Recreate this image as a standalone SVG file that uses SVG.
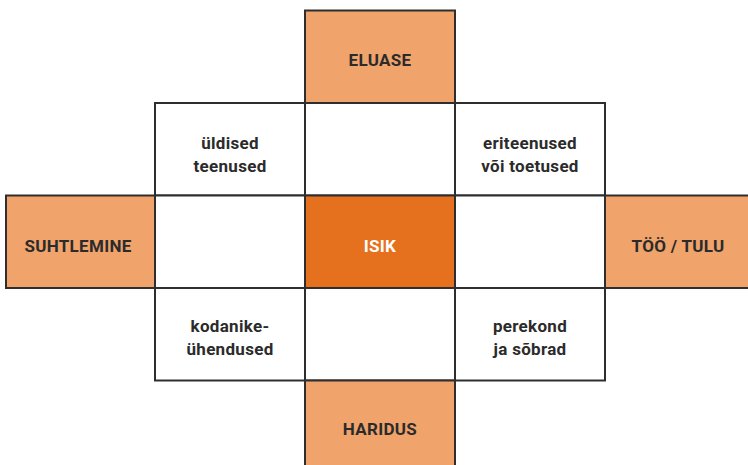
<svg xmlns="http://www.w3.org/2000/svg" width="748" height="465" viewBox="0 0 748 465">
<style>
.c{stroke:#2e2e2e;stroke-width:2}
.w{fill:#ffffff}
.o{fill:#f0a36b}
.k{fill:#e5711e}
text{font-family:Roboto,"Liberation Sans",sans-serif;font-weight:bold;font-size:17px;letter-spacing:0.3px;fill:#2b2b2b;text-anchor:middle}
.t{fill:#ffffff}
</style>
<rect width="748" height="465" fill="#ffffff"/>
<g id="cell-tl"><rect class="c w" x="155" y="103" width="150" height="92.5"/><text x="230" y="149">üldised</text><text x="230" y="171.5">teenused</text></g>
<g id="cell-tc"><rect class="c w" x="305" y="103" width="150" height="92.5"/></g>
<g id="cell-tr"><rect class="c w" x="455" y="103" width="150" height="92.5"/><text x="530" y="149">eriteenused</text><text x="530" y="171.5">või toetused</text></g>
<g id="cell-ml"><rect class="c w" x="155" y="195.5" width="150" height="92.5"/></g>
<g id="cell-mr"><rect class="c w" x="455" y="195.5" width="150" height="92.5"/></g>
<g id="cell-bl"><rect class="c w" x="155" y="288" width="150" height="92.5"/><text x="230" y="332">kodanike-</text><text x="230" y="354.5">ühendused</text></g>
<g id="cell-bc"><rect class="c w" x="305" y="288" width="150" height="92.5"/></g>
<g id="cell-br"><rect class="c w" x="455" y="288" width="150" height="92.5"/><text x="530" y="332">perekond</text><text x="530" y="354.5">ja sõbrad</text></g>
<g id="eluase"><rect class="c o" x="305" y="10.5" width="150" height="92.5"/><text x="380" y="66">ELUASE</text></g>
<g id="suhtlemine"><rect class="c o" x="6" y="195.5" width="149" height="92.5"/><text x="78" y="252">SUHTLEMINE</text></g>
<g id="too-tulu"><rect class="c o" x="605" y="195.5" width="150" height="92.5"/><text x="678" y="252">TÖÖ / TULU</text></g>
<g id="haridus"><rect class="c o" x="305" y="380.5" width="150" height="92.5"/><text x="380" y="435">HARIDUS</text></g>
<g id="isik"><rect class="c k" x="305" y="195.5" width="150" height="92.5"/><text class="t" x="380" y="252">ISIK</text></g>
<g id="connectors"></g>
</svg>
